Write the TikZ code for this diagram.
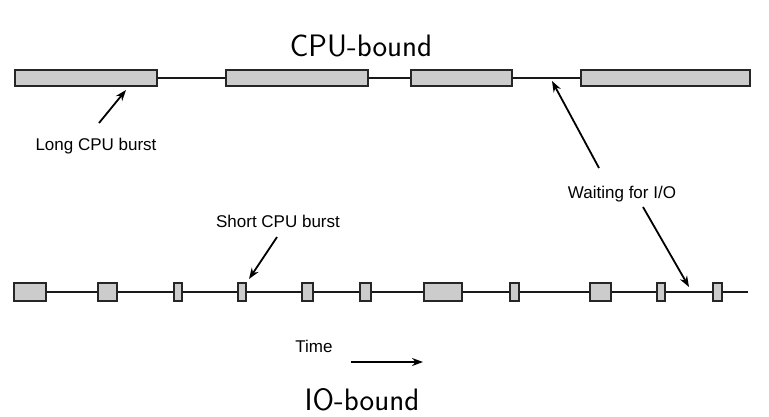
\documentclass[tikz,border=0pt]{standalone}
\usepackage{fontspec}
\setmainfont{Liberation Sans}
\usetikzlibrary{arrows.meta}
\tikzset{
    burst/.style={draw=black!85, fill=gray!40, line width=1.8pt},
    track/.style={draw=black!90, line width=1.3pt},
    pointer/.style={line width=1.8pt, -{Stealth[length=11pt,width=8pt]}},
    lbl/.style={anchor=base, inner sep=0pt, font=\fontsize{17}{20}\selectfont},
    ttl/.style={anchor=base, inner sep=0pt, font=\sffamily\fontsize{31}{34}\selectfont}
}
\begin{document}
\begin{tikzpicture}[x=1pt,y=-1pt]
    \useasboundingbox (0,0) rectangle (769,416);
    \node [ttl] (cpubound) at (361,56) {CPU-bound};
    \draw [track] (15,78)--(750,78);
    \draw [burst] (15,70) rectangle (157,86);
    \draw [burst] (226,70) rectangle (368,86);
    \draw [burst] (411,70) rectangle (512,86);
    \draw [burst] (581,70) rectangle (750,86);
    \node [lbl] (longlbl) at (96,150) {Long CPU burst};
    \coordinate (longtail) at (99,123);
    \coordinate (longtip) at (126,90);
    \draw [pointer] (longtail)--(longtip);
    \node [lbl] (waitlbl) at (622,198) {Waiting for I/O};
    \coordinate (waittail) at (599,168);
    \coordinate (waittip) at (552,81);
    \draw [pointer] (waittail)--(waittip);
    \coordinate (waittailb) at (643,207);
    \coordinate (waittipb) at (689,287);
    \draw [pointer] (waittailb)--(waittipb);
    \node [lbl] (shortlbl) at (278,227) {Short CPU burst};
    \coordinate (shorttail) at (277,237);
    \coordinate (shorttip) at (249,279);
    \draw [pointer] (shorttail)--(shorttip);
    \draw [track] (14,292)--(748,292);
    \draw [burst] (14,283) rectangle (46,301);
    \draw [burst] (98,283) rectangle (117,301);
    \draw [burst] (174,283) rectangle (182,301);
    \draw [burst] (238,283) rectangle (246,301);
    \draw [burst] (302,283) rectangle (313,301);
    \draw [burst] (360,283) rectangle (371,301);
    \draw [burst] (424,283) rectangle (462,301);
    \draw [burst] (510,283) rectangle (519,301);
    \draw [burst] (590,283) rectangle (611,301);
    \draw [burst] (657,283) rectangle (665,301);
    \draw [burst] (713,283) rectangle (722,301);
    \node [lbl] (timelbl) at (314,352) {Time};
    \coordinate (timefrom) at (351,362);
    \coordinate (timeto) at (423,362);
    \draw [pointer] (timefrom)--(timeto);
    \node [ttl] (iobound) at (362,410) {IO-bound};
\end{tikzpicture}
\end{document}
